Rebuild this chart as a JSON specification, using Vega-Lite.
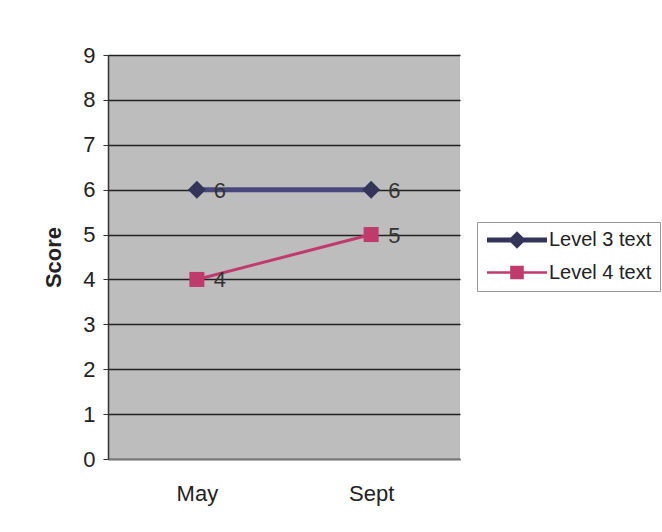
{
  "$schema": "https://vega.github.io/schema/vega-lite/v6.json",
  "width": 352,
  "height": 404,
  "autosize": {"type": "none"},
  "padding": {"left": 108, "top": 55, "right": 202, "bottom": 73},
  "background": "white",
  "config": {
    "font": "Liberation Sans",
    "view": {"fill": "#bdbdbd", "stroke": null}
  },
  "data": {
    "values": [
      {"month": "May", "series": "Level 3 text", "score": 6},
      {"month": "Sept", "series": "Level 3 text", "score": 6},
      {"month": "May", "series": "Level 4 text", "score": 4},
      {"month": "Sept", "series": "Level 4 text", "score": 5}
    ]
  },
  "encoding": {
    "x": {
      "field": "month", "type": "ordinal", "sort": ["May", "Sept"],
      "scale": {"type": "point", "padding": 0.51},
      "axis": {"title": null, "labelFontSize": 22, "labelPadding": 24, "ticks": false, "domain": true, "domainColor": "#777", "domainWidth": 1.5, "labelAngle": 0, "labelColor": "#222", "grid": false}
    },
    "y": {
      "field": "score", "type": "quantitative",
      "scale": {"domain": [0, 9], "nice": false},
      "axis": {"title": "Score", "titleFontSize": 22, "titleFontWeight": "bold", "titleColor": "#222", "titlePadding": 17, "labelFontSize": 22, "labelColor": "#222", "labelPadding": 8, "tickSize": 5, "tickColor": "#333", "domainColor": "#333", "domainWidth": 1.5, "gridColor": "#222", "gridWidth": 1.3, "values": [0, 1, 2, 3, 4, 5, 6, 7, 8, 9]}
    },
    "color": {
      "field": "series", "type": "nominal",
      "scale": {"domain": ["Level 3 text", "Level 4 text"], "range": ["#34345a", "#c03a6c"]},
      "legend": {
        "orient": "none", "legendX": 369, "legendY": 167, "title": null,
        "labelFontSize": 20, "labelColor": "#222", "strokeColor": "#999", "padding": 8,
        "symbolSize": 256, "labelOffset": 44, "rowPadding": 12.5,
        "encode": {
          "symbols": {
            "update": {
              "shape": {"signal": "datum.value === 'Level 3 text' ? 'M-1,-0.3H6.5V0.3H-1Z M2.75,-1.1L3.85,0L2.75,1.1L1.65,0Z' : 'M-1,-0.15H6.5V0.15H-1Z M1.9,-0.85H3.6V0.85H1.9Z'"},
              "size": {"value": 256},
              "fill": {"scale": "color", "field": "value"},
              "stroke": {"value": "transparent"},
              "strokeWidth": {"value": 0},
              "opacity": {"value": 1}
            }
          }
        }
      }
    }
  },
  "layer": [
    {
      "transform": [{"filter": "datum.series === 'Level 3 text'"}],
      "mark": {"type": "line", "strokeWidth": 5},
      "encoding": {"color": {"value": "#48487c"}}
    },
    {
      "transform": [{"filter": "datum.series === 'Level 4 text'"}],
      "mark": {"type": "line", "strokeWidth": 3}
    },
    {
      "transform": [{"filter": "datum.series === 'Level 3 text'"}],
      "mark": {"type": "point", "filled": true, "opacity": 1, "shape": "diamond", "size": 324}
    },
    {
      "transform": [{"filter": "datum.series === 'Level 4 text'"}],
      "mark": {"type": "point", "filled": true, "opacity": 1, "shape": "square", "size": 225}
    },
    {
      "mark": {"type": "text", "align": "left", "baseline": "middle", "dx": 17, "dy": 1, "fontSize": 22},
      "encoding": {"text": {"field": "score"}, "color": {"value": "#333"}}
    }
  ]
}
